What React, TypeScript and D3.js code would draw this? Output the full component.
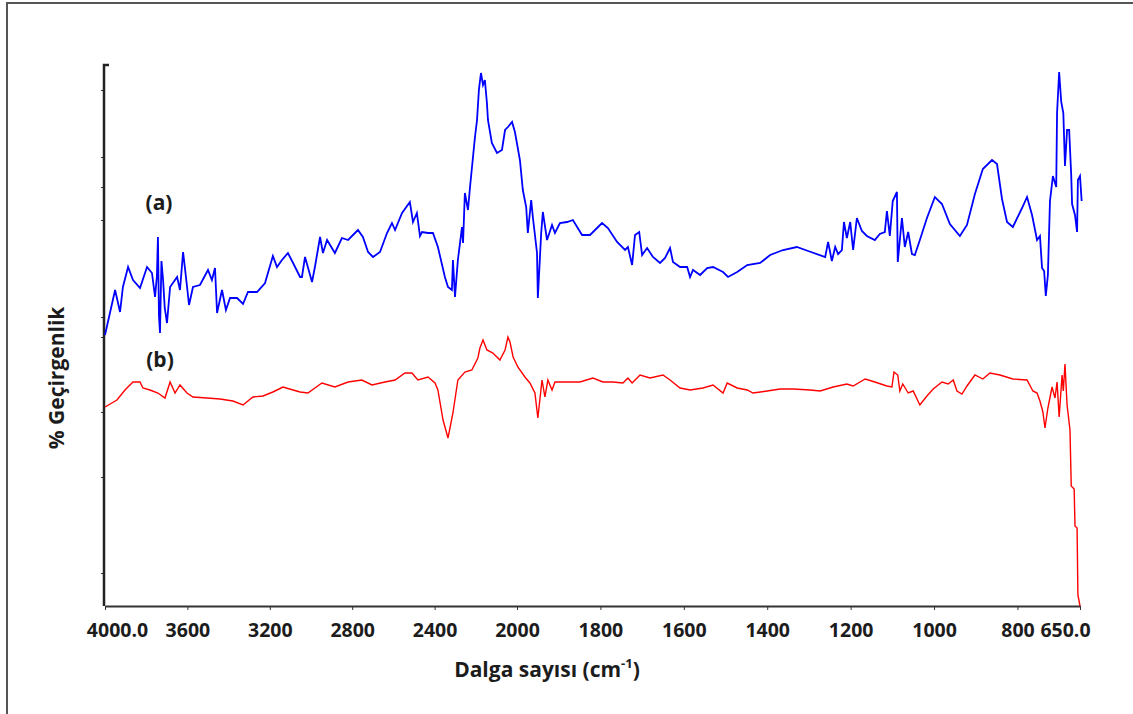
import { useEffect, useRef } from 'react';
import * as d3 from 'd3';

// spectrum (a) - blue
const wnA = [4000, 3951, 3927, 3913, 3888, 3864, 3830, 3796, 3772, 3757, 3748, 3743, 3738, 3733, 3726, 3718, 3710, 3699, 3684, 3650, 3636, 3621, 3607, 3592, 3573, 3539, 3500, 3481, 3466, 3456, 3432, 3413, 3393, 3359, 3330, 3306, 3262, 3223, 3209, 3185, 3165, 3141, 3112, 3087, 3053, 3044, 3029, 2995, 2981, 2956, 2942, 2922, 2884, 2850, 2820, 2772, 2748, 2723, 2699, 2665, 2631, 2607, 2592, 2558, 2520, 2505, 2486, 2471, 2461, 2432, 2408, 2384, 2350, 2335, 2316, 2311, 2301, 2287, 2267, 2262, 2253, 2238, 2228, 2204, 2194, 2185, 2175, 2165, 2156, 2146, 2141, 2122, 2097, 2073, 2058, 2044, 2024, 2010, 1993, 1986, 1978, 1974, 1966, 1962, 1952, 1950, 1942, 1938, 1928, 1916, 1909, 1897, 1880, 1866, 1844, 1825, 1796, 1782, 1760, 1741, 1734, 1724, 1717, 1707, 1700, 1688, 1674, 1657, 1645, 1633, 1626, 1609, 1592, 1585, 1578, 1561, 1544, 1530, 1506, 1494, 1472, 1448, 1417, 1393, 1362, 1329, 1302, 1261, 1254, 1245, 1237, 1230, 1221, 1216, 1209, 1201, 1194, 1185, 1173, 1161, 1142, 1130, 1118, 1113, 1106, 1099, 1089, 1087, 1077, 1070, 1062, 1053, 1046, 1034, 1017, 998, 981, 962, 938, 921, 902, 883, 861, 849, 837, 825, 811, 789, 777, 765, 753, 746, 741, 736, 732, 727, 722, 715, 707, 705, 700, 695, 690, 686, 681, 676, 671, 669, 662, 657, 655, 650, 646];
const tA = [27.1, 31.6, 29.4, 31.9, 33.9, 32.6, 31.8, 33.9, 33.3, 30.9, 33.0, 36.9, 29.0, 27.3, 34.5, 32.6, 29.8, 28.3, 31.9, 32.9, 31.6, 35.4, 32.9, 30.1, 31.9, 32.1, 33.6, 32.6, 33.8, 29.3, 31.6, 29.6, 30.8, 30.8, 30.2, 31.4, 31.4, 32.3, 33.3, 35.0, 33.9, 34.6, 35.3, 34.3, 32.9, 32.9, 34.9, 32.4, 33.9, 36.9, 35.3, 36.6, 35.3, 36.8, 36.6, 37.6, 36.9, 35.4, 34.9, 35.4, 37.3, 38.3, 37.6, 39.3, 40.4, 38.4, 39.3, 37.0, 37.4, 37.3, 37.3, 35.9, 32.9, 31.9, 31.6, 34.6, 30.9, 34.6, 37.9, 36.3, 41.3, 39.6, 41.9, 46.9, 48.6, 51.6, 53.3, 52.1, 52.6, 50.3, 48.6, 46.3, 45.3, 45.6, 47.6, 47.9, 48.4, 47.4, 44.6, 41.6, 39.9, 37.3, 40.6, 38.9, 35.3, 30.8, 37.3, 39.4, 36.6, 38.1, 37.3, 38.3, 38.4, 38.6, 37.1, 37.1, 38.3, 37.8, 36.4, 35.6, 35.9, 34.1, 37.1, 37.4, 35.1, 35.8, 34.9, 34.3, 34.8, 35.8, 34.4, 33.9, 33.9, 32.9, 33.6, 33.1, 33.8, 33.9, 33.4, 32.9, 33.4, 34.1, 34.3, 35.1, 35.6, 35.9, 35.5, 34.9, 36.4, 34.5, 35.9, 35.2, 35.6, 38.4, 36.8, 38.4, 35.6, 38.8, 37.5, 37.0, 36.6, 37.2, 37.4, 39.5, 37.0, 40.5, 41.4, 34.4, 38.8, 35.9, 37.4, 35.2, 35.1, 36.6, 38.8, 40.9, 40.2, 38.2, 37.0, 38.1, 41.2, 43.7, 44.6, 44.2, 40.7, 38.4, 37.9, 39.8, 40.9, 39.1, 36.6, 37.0, 33.8, 33.5, 31.0, 33.1, 40.5, 43.0, 41.9, 49.3, 53.4, 50.4, 49.3, 44.0, 47.6, 47.6, 43.0, 40.2, 39.1, 37.4, 42.6, 43.0, 40.5];

// spectrum (b) - red
const wnB = [4000, 3942, 3903, 3864, 3830, 3816, 3782, 3743, 3709, 3684, 3660, 3636, 3602, 3573, 3505, 3442, 3379, 3330, 3282, 3233, 3185, 3136, 3087, 3053, 3015, 2947, 2884, 2820, 2753, 2704, 2641, 2592, 2544, 2510, 2481, 2432, 2398, 2384, 2359, 2335, 2311, 2287, 2253, 2219, 2190, 2180, 2165, 2146, 2117, 2083, 2058, 2044, 2034, 2019, 1998, 1981, 1969, 1957, 1950, 1940, 1933, 1926, 1916, 1909, 1878, 1849, 1818, 1794, 1770, 1746, 1734, 1724, 1705, 1681, 1650, 1633, 1609, 1585, 1554, 1530, 1506, 1496, 1472, 1448, 1434, 1400, 1369, 1338, 1297, 1273, 1242, 1209, 1194, 1165, 1142, 1113, 1101, 1096, 1087, 1082, 1075, 1062, 1050, 1034, 1017, 1002, 981, 966, 954, 945, 933, 921, 902, 883, 866, 842, 811, 777, 763, 753, 746, 739, 734, 727, 717, 710, 705, 700, 693, 690, 686, 681, 674, 671, 664, 662, 657, 655, 650];
const tB = [19.9, 20.6, 21.6, 22.4, 22.4, 21.8, 21.6, 21.3, 20.8, 22.4, 21.3, 22.1, 21.3, 20.9, 20.8, 20.7, 20.5, 20.1, 20.9, 21.0, 21.4, 21.9, 21.6, 21.4, 21.3, 22.3, 21.9, 22.4, 22.6, 22.1, 22.4, 22.6, 23.3, 23.3, 22.6, 22.9, 22.3, 21.6, 18.6, 16.8, 19.3, 22.6, 23.4, 23.6, 24.8, 25.8, 26.6, 25.6, 25.3, 24.6, 25.6, 26.9, 26.4, 24.9, 23.9, 22.9, 22.3, 21.3, 18.8, 22.6, 20.9, 22.6, 21.6, 22.4, 22.4, 22.4, 22.8, 22.4, 22.4, 22.3, 22.8, 22.3, 23.1, 22.8, 23.1, 22.6, 21.8, 21.6, 21.8, 22.1, 21.3, 22.3, 21.8, 21.6, 21.3, 21.5, 21.7, 21.7, 21.6, 21.5, 21.9, 22.2, 22.0, 22.7, 22.4, 22.0, 21.9, 23.4, 23.1, 21.5, 22.2, 21.3, 21.5, 20.1, 21.0, 21.7, 22.4, 22.2, 22.6, 21.5, 21.2, 22.0, 23.1, 22.7, 23.3, 23.1, 22.7, 22.6, 21.5, 21.3, 20.5, 19.4, 17.8, 19.8, 21.9, 20.8, 22.4, 18.9, 23.1, 21.5, 24.2, 20.1, 17.6, 12.0, 11.7, 8.0, 7.8, 1.1, 0];

const xTicks = [4000, 3600, 3200, 2800, 2400, 2000, 1800, 1600, 1400, 1200, 1000, 800, 650];
const xTickLabels = ['4000.0', '3600', '3200', '2800', '2400', '2000', '1800', '1600', '1400', '1200', '1000', '800', '650.0'];
const yTicks = [51.6, 44.9, 41.9, 38.6, 28.9, 26.9, 19.4, 12.9, 3.3];

export default function App() {
    const ref = useRef(null);

    useEffect(() => {
        const svg = d3.select(ref.current);
        svg.selectAll('*').remove();

        const font = '"Open Sans", Lato, sans-serif';
        const ink = '#1c1c1c';

        // the wavenumber axis is expanded 2x below 2000
        const x = d3.scaleLinear().domain([4000, 2000, 650]).range([105, 517, 1080]);
        const y = d3.scaleLinear().domain([0, 54.1]).range([606, 65]);

        // outer frame
        svg.append('path')
            .attr('d', 'M7,714V3H1133')
            .attr('fill', 'none')
            .attr('stroke', '#555')
            .attr('stroke-width', 2);

        const xAxis = svg.append('g')
            .attr('transform', `translate(0,${y(0)})`)
            .call(d3.axisBottom(x)
                .tickValues(xTicks)
                .tickFormat((d, i) => xTickLabels[i])
                .tickSize(4)
                .tickSizeOuter(0));
        xAxis.select('.domain').attr('stroke', '#333').attr('stroke-width', 2);
        xAxis.selectAll('.tick line').attr('stroke', '#333');
        xAxis.selectAll('.tick text')
            .attr('y', 31)
            .attr('dy', null)
            .attr('dx', (d, i) => (i === 0 ? 12 : i === xTicks.length - 1 ? -15 : 0))
            .attr('fill', ink)
            .style('font-family', font)
            .style('font-size', '19.5px')
            .style('font-weight', 700);

        const yAxis = svg.append('g')
            .attr('transform', `translate(${x(4000) - 1},0)`)
            .call(d3.axisLeft(y).tickValues(yTicks).tickSize(3).tickFormat(() => ''));
        yAxis.select('.domain').remove();
        yAxis.selectAll('.tick line').attr('stroke', '#333');
        yAxis.append('path')
            .attr('d', `M5,${y(54.1)}H0V${y(0)}`)
            .attr('fill', 'none')
            .attr('stroke', '#222')
            .attr('stroke-width', 2.5);

        const line = d3.line()
            .x(d => x(d[0]))
            .y(d => y(d[1]));

        svg.append('path')
            .datum(d3.zip(wnB, tB))
            .attr('fill', 'none')
            .attr('stroke', '#ff0000')
            .attr('stroke-width', 1.4)
            .attr('d', line);

        svg.append('path')
            .datum(d3.zip(wnA, tA))
            .attr('fill', 'none')
            .attr('stroke', '#0000ff')
            .attr('stroke-width', 1.8)
            .attr('d', line);

        svg.append('text')
            .attr('x', 159).attr('y', 210)
            .attr('text-anchor', 'middle')
            .attr('fill', ink)
            .style('font-family', font).style('font-size', '21px').style('font-weight', 700)
            .text('(a)');

        svg.append('text')
            .attr('x', 160).attr('y', 367)
            .attr('text-anchor', 'middle')
            .attr('fill', ink)
            .style('font-family', font).style('font-size', '21px').style('font-weight', 700)
            .text('(b)');

        const xTitle = svg.append('text')
            .attr('x', 547).attr('y', 677)
            .attr('text-anchor', 'middle')
            .attr('fill', ink)
            .style('font-family', font).style('font-size', '21px').style('font-weight', 700);
        xTitle.append('tspan').text('Dalga sayısı (cm');
        xTitle.append('tspan').attr('dy', -9).style('font-size', '13px').text('-1');
        xTitle.append('tspan').attr('dy', 9).text(')');

        svg.append('text')
            .attr('transform', 'translate(64,378) rotate(-90)')
            .attr('text-anchor', 'middle')
            .attr('fill', ink)
            .style('font-family', font).style('font-size', '21px').style('font-weight', 700)
            .text('% Geçirgenlik');
    }, []);

    return (
        <svg ref={ref} width={1133} height={714}
            style={{ position: 'absolute', left: 0, top: 0, background: '#fff' }} />
    );
}
